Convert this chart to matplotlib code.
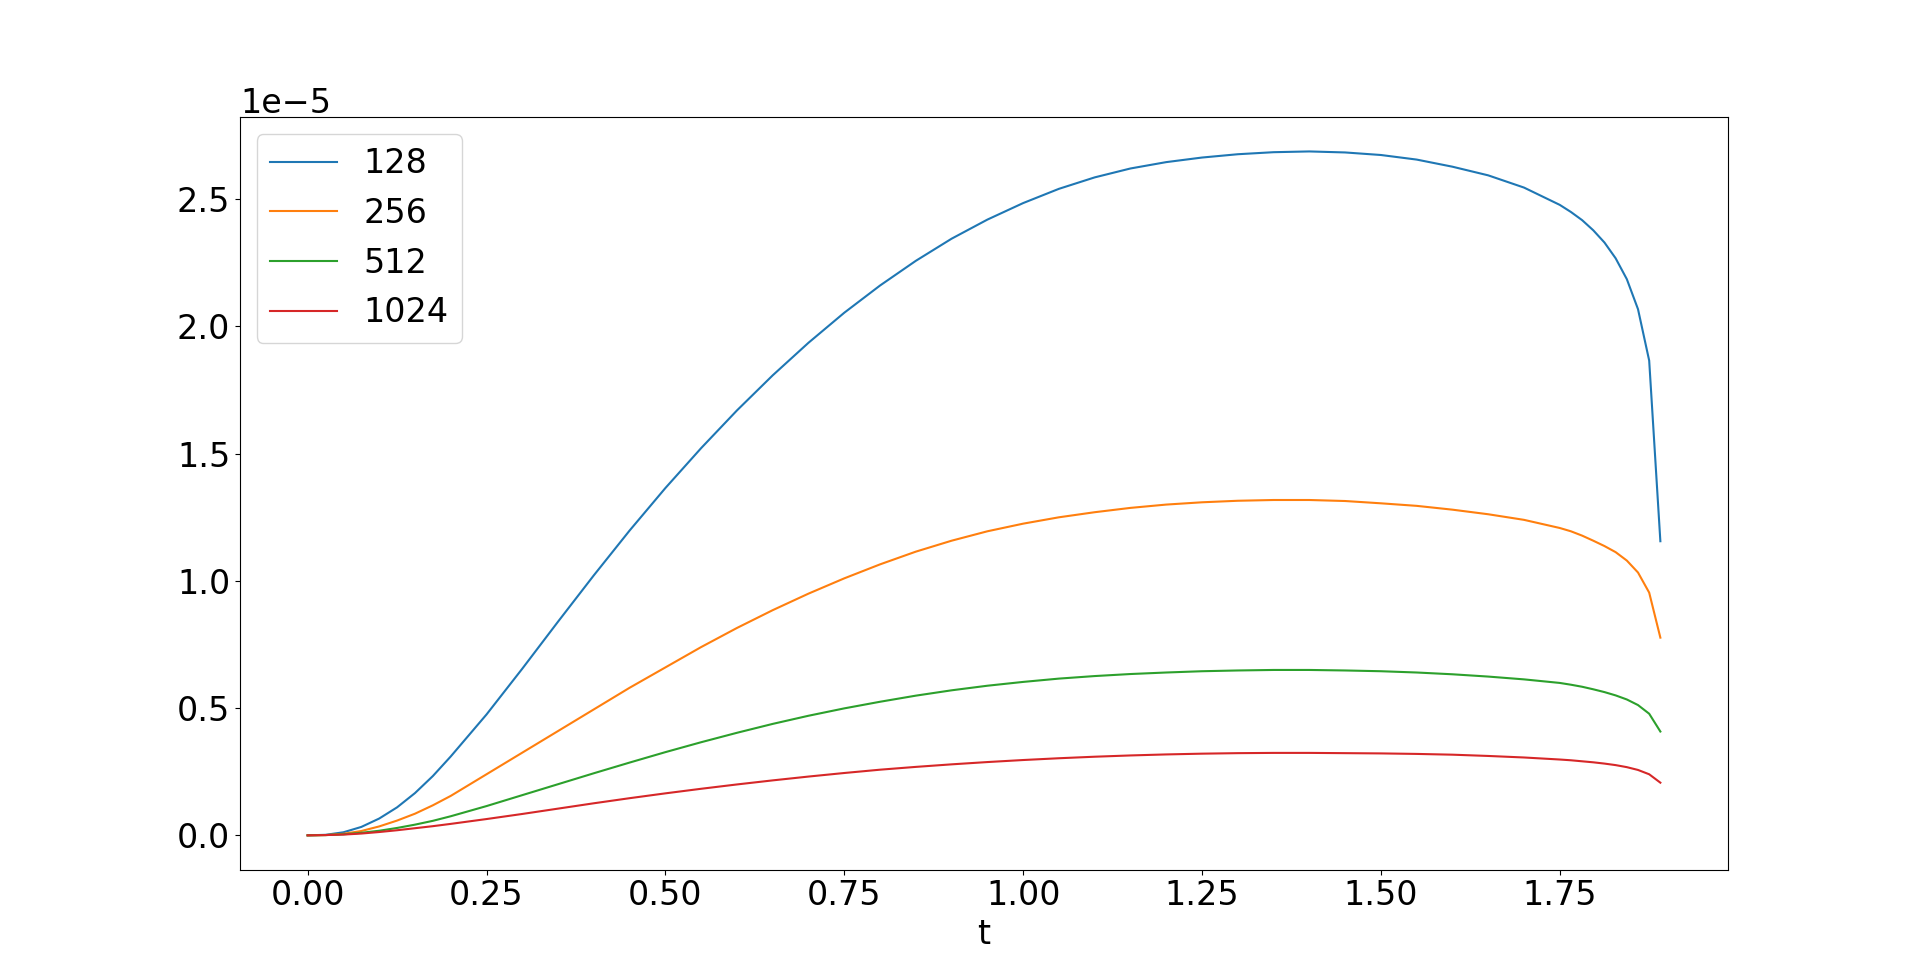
import matplotlib
matplotlib.use("Agg")
import matplotlib.pyplot as plt

plt.rcParams['font.size'] = 24

t = [0.00, 0.025, 0.05, 0.075, 0.10, 0.125, 0.15, 0.175, 0.20, 0.25,
     0.30, 0.35, 0.40, 0.45,
     0.50, 0.55, 0.60, 0.65, 0.70, 0.75, 0.80, 0.85, 0.90, 0.95,
     1.00, 1.05, 1.10, 1.15, 1.20, 1.25, 1.30, 1.35, 1.40, 1.45,
     1.50, 1.55, 1.60, 1.65, 1.70,
     1.75, 1.765625, 1.78125, 1.796875, 1.8125, 1.828125, 1.84375,
     1.859375, 1.875, 1.890625]

# values in units of 1e-5
n128 = [0.000, 0.002, 0.012, 0.033, 0.066, 0.110, 0.166, 0.233, 0.310, 0.475,
        0.655, 0.840, 1.022, 1.198,
        1.365, 1.522, 1.670, 1.808, 1.936, 2.054, 2.161, 2.258, 2.345, 2.420,
        2.485, 2.541, 2.586, 2.621, 2.646, 2.664, 2.677, 2.685, 2.688, 2.684,
        2.674, 2.656, 2.628, 2.594, 2.546,
        2.478, 2.450, 2.418, 2.378, 2.330, 2.268, 2.186,
        2.068, 1.866, 1.156]

n256 = [0.000, 0.001, 0.006, 0.017, 0.035, 0.058, 0.085, 0.118, 0.155, 0.240,
        0.325, 0.410, 0.495, 0.580,
        0.660, 0.740, 0.815, 0.885, 0.950, 1.010, 1.065, 1.115, 1.158, 1.195,
        1.225, 1.250, 1.270, 1.287, 1.300, 1.309, 1.315, 1.318, 1.318, 1.314,
        1.305, 1.295, 1.280, 1.262, 1.240,
        1.208, 1.195, 1.178, 1.158, 1.137, 1.113, 1.080,
        1.033, 0.954, 0.777]

n512 = [0.000, 0.001, 0.004, 0.010, 0.018, 0.029, 0.042, 0.057, 0.075, 0.115,
        0.158, 0.201, 0.244, 0.286,
        0.327, 0.366, 0.403, 0.438, 0.470, 0.499, 0.525, 0.549, 0.570, 0.588,
        0.603, 0.616, 0.626, 0.634, 0.640, 0.645, 0.648, 0.650, 0.650, 0.648,
        0.645, 0.640, 0.633, 0.624, 0.613,
        0.599, 0.592, 0.584, 0.574, 0.563, 0.550, 0.534,
        0.512, 0.478, 0.408]

n1024 = [0.000, 0.001, 0.003, 0.007, 0.013, 0.020, 0.028, 0.036, 0.045, 0.064,
         0.084, 0.105, 0.126, 0.146,
         0.165, 0.183, 0.200, 0.216, 0.231, 0.245, 0.258, 0.269, 0.279, 0.288,
         0.296, 0.303, 0.309, 0.314, 0.318, 0.321, 0.323, 0.324, 0.324, 0.323,
         0.322, 0.320, 0.317, 0.312, 0.306,
         0.298, 0.295, 0.291, 0.287, 0.282, 0.276, 0.268,
         0.257, 0.240, 0.207]

labels = ['128', '256', '512', '1024']
series = [n128, n256, n512, n1024]

fig, ax = plt.subplots(figsize=(19.2, 9.77), dpi=100)
for lab, vals in zip(labels, series):
    ax.plot(t, [v * 1e-5 for v in vals], label=lab)

ax.set_xlabel('t')
ax.legend()

fig.savefig('out.png', dpi=100)
